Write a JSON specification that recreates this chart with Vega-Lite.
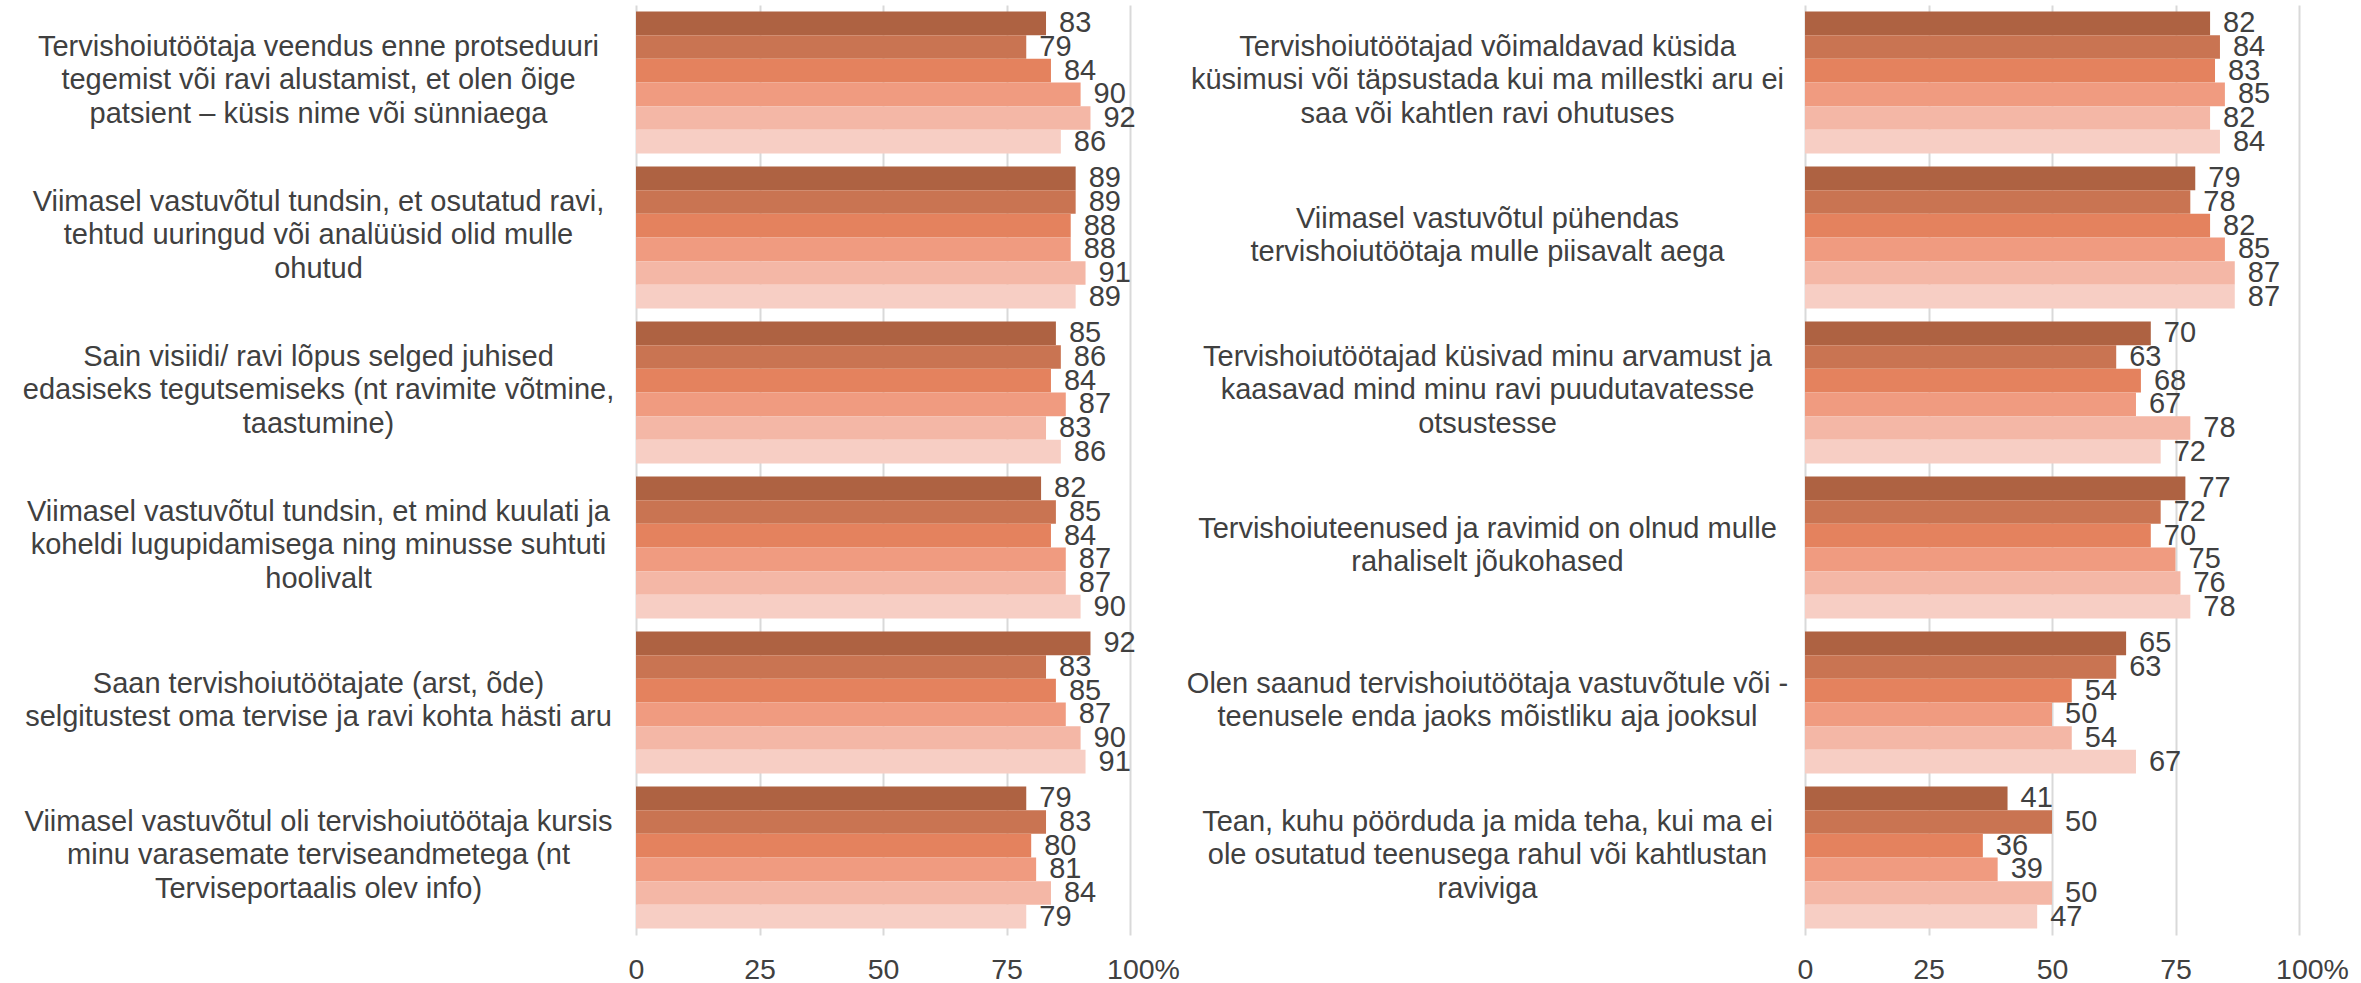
{
  "$schema": "https://vega.github.io/schema/vega-lite/v6.json",
  "background": "white",
  "padding": {"left": 22, "top": 5, "right": 5, "bottom": 2},
  "config": {
    "view": {"stroke": null},
    "font": "Liberation Sans",
    "text": {"font": "Liberation Sans"}
  },
  "datasets": {
    "left": [
      {"q": "Tervishoiutöötaja veendus enne protseduuri|tegemist või ravi alustamist, et olen õige|patsient – küsis nime või sünniaega", "s": 1, "v": 83},
      {"q": "Tervishoiutöötaja veendus enne protseduuri|tegemist või ravi alustamist, et olen õige|patsient – küsis nime või sünniaega", "s": 2, "v": 79},
      {"q": "Tervishoiutöötaja veendus enne protseduuri|tegemist või ravi alustamist, et olen õige|patsient – küsis nime või sünniaega", "s": 3, "v": 84},
      {"q": "Tervishoiutöötaja veendus enne protseduuri|tegemist või ravi alustamist, et olen õige|patsient – küsis nime või sünniaega", "s": 4, "v": 90},
      {"q": "Tervishoiutöötaja veendus enne protseduuri|tegemist või ravi alustamist, et olen õige|patsient – küsis nime või sünniaega", "s": 5, "v": 92},
      {"q": "Tervishoiutöötaja veendus enne protseduuri|tegemist või ravi alustamist, et olen õige|patsient – küsis nime või sünniaega", "s": 6, "v": 86},
      {"q": "Viimasel vastuvõtul tundsin, et osutatud ravi,|tehtud uuringud või analüüsid olid mulle|ohutud", "s": 1, "v": 89},
      {"q": "Viimasel vastuvõtul tundsin, et osutatud ravi,|tehtud uuringud või analüüsid olid mulle|ohutud", "s": 2, "v": 89},
      {"q": "Viimasel vastuvõtul tundsin, et osutatud ravi,|tehtud uuringud või analüüsid olid mulle|ohutud", "s": 3, "v": 88},
      {"q": "Viimasel vastuvõtul tundsin, et osutatud ravi,|tehtud uuringud või analüüsid olid mulle|ohutud", "s": 4, "v": 88},
      {"q": "Viimasel vastuvõtul tundsin, et osutatud ravi,|tehtud uuringud või analüüsid olid mulle|ohutud", "s": 5, "v": 91},
      {"q": "Viimasel vastuvõtul tundsin, et osutatud ravi,|tehtud uuringud või analüüsid olid mulle|ohutud", "s": 6, "v": 89},
      {"q": "Sain visiidi/ ravi lõpus selged juhised|edasiseks tegutsemiseks (nt ravimite võtmine,|taastumine)", "s": 1, "v": 85},
      {"q": "Sain visiidi/ ravi lõpus selged juhised|edasiseks tegutsemiseks (nt ravimite võtmine,|taastumine)", "s": 2, "v": 86},
      {"q": "Sain visiidi/ ravi lõpus selged juhised|edasiseks tegutsemiseks (nt ravimite võtmine,|taastumine)", "s": 3, "v": 84},
      {"q": "Sain visiidi/ ravi lõpus selged juhised|edasiseks tegutsemiseks (nt ravimite võtmine,|taastumine)", "s": 4, "v": 87},
      {"q": "Sain visiidi/ ravi lõpus selged juhised|edasiseks tegutsemiseks (nt ravimite võtmine,|taastumine)", "s": 5, "v": 83},
      {"q": "Sain visiidi/ ravi lõpus selged juhised|edasiseks tegutsemiseks (nt ravimite võtmine,|taastumine)", "s": 6, "v": 86},
      {"q": "Viimasel vastuvõtul tundsin, et mind kuulati ja|koheldi lugupidamisega ning minusse suhtuti|hoolivalt", "s": 1, "v": 82},
      {"q": "Viimasel vastuvõtul tundsin, et mind kuulati ja|koheldi lugupidamisega ning minusse suhtuti|hoolivalt", "s": 2, "v": 85},
      {"q": "Viimasel vastuvõtul tundsin, et mind kuulati ja|koheldi lugupidamisega ning minusse suhtuti|hoolivalt", "s": 3, "v": 84},
      {"q": "Viimasel vastuvõtul tundsin, et mind kuulati ja|koheldi lugupidamisega ning minusse suhtuti|hoolivalt", "s": 4, "v": 87},
      {"q": "Viimasel vastuvõtul tundsin, et mind kuulati ja|koheldi lugupidamisega ning minusse suhtuti|hoolivalt", "s": 5, "v": 87},
      {"q": "Viimasel vastuvõtul tundsin, et mind kuulati ja|koheldi lugupidamisega ning minusse suhtuti|hoolivalt", "s": 6, "v": 90},
      {"q": "Saan tervishoiutöötajate (arst, õde)|selgitustest oma tervise ja ravi kohta hästi aru", "s": 1, "v": 92},
      {"q": "Saan tervishoiutöötajate (arst, õde)|selgitustest oma tervise ja ravi kohta hästi aru", "s": 2, "v": 83},
      {"q": "Saan tervishoiutöötajate (arst, õde)|selgitustest oma tervise ja ravi kohta hästi aru", "s": 3, "v": 85},
      {"q": "Saan tervishoiutöötajate (arst, õde)|selgitustest oma tervise ja ravi kohta hästi aru", "s": 4, "v": 87},
      {"q": "Saan tervishoiutöötajate (arst, õde)|selgitustest oma tervise ja ravi kohta hästi aru", "s": 5, "v": 90},
      {"q": "Saan tervishoiutöötajate (arst, õde)|selgitustest oma tervise ja ravi kohta hästi aru", "s": 6, "v": 91},
      {"q": "Viimasel vastuvõtul oli tervishoiutöötaja kursis|minu varasemate terviseandmetega (nt|Terviseportaalis olev info)", "s": 1, "v": 79},
      {"q": "Viimasel vastuvõtul oli tervishoiutöötaja kursis|minu varasemate terviseandmetega (nt|Terviseportaalis olev info)", "s": 2, "v": 83},
      {"q": "Viimasel vastuvõtul oli tervishoiutöötaja kursis|minu varasemate terviseandmetega (nt|Terviseportaalis olev info)", "s": 3, "v": 80},
      {"q": "Viimasel vastuvõtul oli tervishoiutöötaja kursis|minu varasemate terviseandmetega (nt|Terviseportaalis olev info)", "s": 4, "v": 81},
      {"q": "Viimasel vastuvõtul oli tervishoiutöötaja kursis|minu varasemate terviseandmetega (nt|Terviseportaalis olev info)", "s": 5, "v": 84},
      {"q": "Viimasel vastuvõtul oli tervishoiutöötaja kursis|minu varasemate terviseandmetega (nt|Terviseportaalis olev info)", "s": 6, "v": 79}
    ],
    "right": [
      {"q": "Tervishoiutöötajad võimaldavad küsida|küsimusi või täpsustada kui ma millestki aru ei|saa või kahtlen ravi ohutuses", "s": 1, "v": 82},
      {"q": "Tervishoiutöötajad võimaldavad küsida|küsimusi või täpsustada kui ma millestki aru ei|saa või kahtlen ravi ohutuses", "s": 2, "v": 84},
      {"q": "Tervishoiutöötajad võimaldavad küsida|küsimusi või täpsustada kui ma millestki aru ei|saa või kahtlen ravi ohutuses", "s": 3, "v": 83},
      {"q": "Tervishoiutöötajad võimaldavad küsida|küsimusi või täpsustada kui ma millestki aru ei|saa või kahtlen ravi ohutuses", "s": 4, "v": 85},
      {"q": "Tervishoiutöötajad võimaldavad küsida|küsimusi või täpsustada kui ma millestki aru ei|saa või kahtlen ravi ohutuses", "s": 5, "v": 82},
      {"q": "Tervishoiutöötajad võimaldavad küsida|küsimusi või täpsustada kui ma millestki aru ei|saa või kahtlen ravi ohutuses", "s": 6, "v": 84},
      {"q": "Viimasel vastuvõtul pühendas|tervishoiutöötaja mulle piisavalt aega", "s": 1, "v": 79},
      {"q": "Viimasel vastuvõtul pühendas|tervishoiutöötaja mulle piisavalt aega", "s": 2, "v": 78},
      {"q": "Viimasel vastuvõtul pühendas|tervishoiutöötaja mulle piisavalt aega", "s": 3, "v": 82},
      {"q": "Viimasel vastuvõtul pühendas|tervishoiutöötaja mulle piisavalt aega", "s": 4, "v": 85},
      {"q": "Viimasel vastuvõtul pühendas|tervishoiutöötaja mulle piisavalt aega", "s": 5, "v": 87},
      {"q": "Viimasel vastuvõtul pühendas|tervishoiutöötaja mulle piisavalt aega", "s": 6, "v": 87},
      {"q": "Tervishoiutöötajad küsivad minu arvamust ja|kaasavad mind minu ravi puudutavatesse|otsustesse", "s": 1, "v": 70},
      {"q": "Tervishoiutöötajad küsivad minu arvamust ja|kaasavad mind minu ravi puudutavatesse|otsustesse", "s": 2, "v": 63},
      {"q": "Tervishoiutöötajad küsivad minu arvamust ja|kaasavad mind minu ravi puudutavatesse|otsustesse", "s": 3, "v": 68},
      {"q": "Tervishoiutöötajad küsivad minu arvamust ja|kaasavad mind minu ravi puudutavatesse|otsustesse", "s": 4, "v": 67},
      {"q": "Tervishoiutöötajad küsivad minu arvamust ja|kaasavad mind minu ravi puudutavatesse|otsustesse", "s": 5, "v": 78},
      {"q": "Tervishoiutöötajad küsivad minu arvamust ja|kaasavad mind minu ravi puudutavatesse|otsustesse", "s": 6, "v": 72},
      {"q": "Tervishoiuteenused ja ravimid on olnud mulle|rahaliselt jõukohased", "s": 1, "v": 77},
      {"q": "Tervishoiuteenused ja ravimid on olnud mulle|rahaliselt jõukohased", "s": 2, "v": 72},
      {"q": "Tervishoiuteenused ja ravimid on olnud mulle|rahaliselt jõukohased", "s": 3, "v": 70},
      {"q": "Tervishoiuteenused ja ravimid on olnud mulle|rahaliselt jõukohased", "s": 4, "v": 75},
      {"q": "Tervishoiuteenused ja ravimid on olnud mulle|rahaliselt jõukohased", "s": 5, "v": 76},
      {"q": "Tervishoiuteenused ja ravimid on olnud mulle|rahaliselt jõukohased", "s": 6, "v": 78},
      {"q": "Olen saanud tervishoiutöötaja vastuvõtule või -|teenusele enda jaoks mõistliku aja jooksul", "s": 1, "v": 65},
      {"q": "Olen saanud tervishoiutöötaja vastuvõtule või -|teenusele enda jaoks mõistliku aja jooksul", "s": 2, "v": 63},
      {"q": "Olen saanud tervishoiutöötaja vastuvõtule või -|teenusele enda jaoks mõistliku aja jooksul", "s": 3, "v": 54},
      {"q": "Olen saanud tervishoiutöötaja vastuvõtule või -|teenusele enda jaoks mõistliku aja jooksul", "s": 4, "v": 50},
      {"q": "Olen saanud tervishoiutöötaja vastuvõtule või -|teenusele enda jaoks mõistliku aja jooksul", "s": 5, "v": 54},
      {"q": "Olen saanud tervishoiutöötaja vastuvõtule või -|teenusele enda jaoks mõistliku aja jooksul", "s": 6, "v": 67},
      {"q": "Tean, kuhu pöörduda ja mida teha, kui ma ei|ole osutatud teenusega rahul või kahtlustan|raviviga", "s": 1, "v": 41},
      {"q": "Tean, kuhu pöörduda ja mida teha, kui ma ei|ole osutatud teenusega rahul või kahtlustan|raviviga", "s": 2, "v": 50},
      {"q": "Tean, kuhu pöörduda ja mida teha, kui ma ei|ole osutatud teenusega rahul või kahtlustan|raviviga", "s": 3, "v": 36},
      {"q": "Tean, kuhu pöörduda ja mida teha, kui ma ei|ole osutatud teenusega rahul või kahtlustan|raviviga", "s": 4, "v": 39},
      {"q": "Tean, kuhu pöörduda ja mida teha, kui ma ei|ole osutatud teenusega rahul või kahtlustan|raviviga", "s": 5, "v": 50},
      {"q": "Tean, kuhu pöörduda ja mida teha, kui ma ei|ole osutatud teenusega rahul või kahtlustan|raviviga", "s": 6, "v": 47}
    ]
  },
  "spacing": 675,
  "bounds": "flush",
  "hconcat": [
    {
      "width": 494,
      "height": 930,
      "data": {"name": "left"},
      "encoding": {
        "y": {"field": "q", "type": "nominal", "sort": null,
          "scale": {"paddingInner": 0.084, "paddingOuter": 0.042},
          "axis": {"title": null, "labelExpr": "split(datum.value, '|')", "labelAlign": "center", "labelBaseline": "middle", "labelPadding": 318, "ticks": false, "tickSize": 0, "domain": false, "labelLimit": 0, "labelFontSize": 29, "labelLineHeight": 33.5, "labelColor": "#404040", "labelFont": "Liberation Sans", "grid": false,
            "labelOffset": {"condition": [{"test": "length(split(datum.value, '|')) == 3", "value": -36}, {"test": "length(split(datum.value, '|')) == 2", "value": -19}], "value": 0}}},
        "yOffset": {"field": "s", "type": "ordinal", "scale": {"paddingInner": 0, "paddingOuter": 0}},
        "x": {"field": "v", "type": "quantitative", "scale": {"domain": [0, 100]},
          "axis": {"title": null, "values": [0, 25, 50, 75, 100], "labelFlush": false, "labelExpr": "datum.value == 100 ? '100%' : datum.label", "labelOffset": {"condition": {"test": "datum.value == 100", "value": 13}, "value": 0}, "grid": true, "gridColor": "#d9d9d9", "gridWidth": 2, "domain": false, "ticks": false, "tickSize": 0, "labelPadding": 20, "labelFontSize": 28.5, "labelColor": "#404040", "labelFont": "Liberation Sans"}}
      },
      "layer": [
        {"mark": {"type": "bar"},
          "encoding": {"color": {"field": "s", "type": "ordinal", "legend": null, "scale": {"domain": [1, 2, 3, 4, 5, 6], "range": ["#AE6242", "#C97452", "#E4825E", "#F09B80", "#F4B7A6", "#F7CEC4"]}}}},
        {"mark": {"type": "text", "align": "left", "baseline": "middle", "dx": 13, "fontSize": 29, "color": "#404040"},
          "encoding": {"text": {"field": "v", "type": "quantitative"}}}
      ]
    },
    {
      "width": 494,
      "height": 930,
      "data": {"name": "right"},
      "encoding": {
        "y": {"field": "q", "type": "nominal", "sort": null,
          "scale": {"paddingInner": 0.084, "paddingOuter": 0.042},
          "axis": {"title": null, "labelExpr": "split(datum.value, '|')", "labelAlign": "center", "labelBaseline": "middle", "labelPadding": 318, "ticks": false, "tickSize": 0, "domain": false, "labelLimit": 0, "labelFontSize": 29, "labelLineHeight": 33.5, "labelColor": "#404040", "labelFont": "Liberation Sans", "grid": false,
            "labelOffset": {"condition": [{"test": "length(split(datum.value, '|')) == 3", "value": -36}, {"test": "length(split(datum.value, '|')) == 2", "value": -19}], "value": 0}}},
        "yOffset": {"field": "s", "type": "ordinal", "scale": {"paddingInner": 0, "paddingOuter": 0}},
        "x": {"field": "v", "type": "quantitative", "scale": {"domain": [0, 100]},
          "axis": {"title": null, "values": [0, 25, 50, 75, 100], "labelFlush": false, "labelExpr": "datum.value == 100 ? '100%' : datum.label", "labelOffset": {"condition": {"test": "datum.value == 100", "value": 13}, "value": 0}, "grid": true, "gridColor": "#d9d9d9", "gridWidth": 2, "domain": false, "ticks": false, "tickSize": 0, "labelPadding": 20, "labelFontSize": 28.5, "labelColor": "#404040", "labelFont": "Liberation Sans"}}
      },
      "layer": [
        {"mark": {"type": "bar"},
          "encoding": {"color": {"field": "s", "type": "ordinal", "legend": null, "scale": {"domain": [1, 2, 3, 4, 5, 6], "range": ["#AE6242", "#C97452", "#E4825E", "#F09B80", "#F4B7A6", "#F7CEC4"]}}}},
        {"mark": {"type": "text", "align": "left", "baseline": "middle", "dx": 13, "fontSize": 29, "color": "#404040"},
          "encoding": {"text": {"field": "v", "type": "quantitative"}}}
      ]
    }
  ]
}
